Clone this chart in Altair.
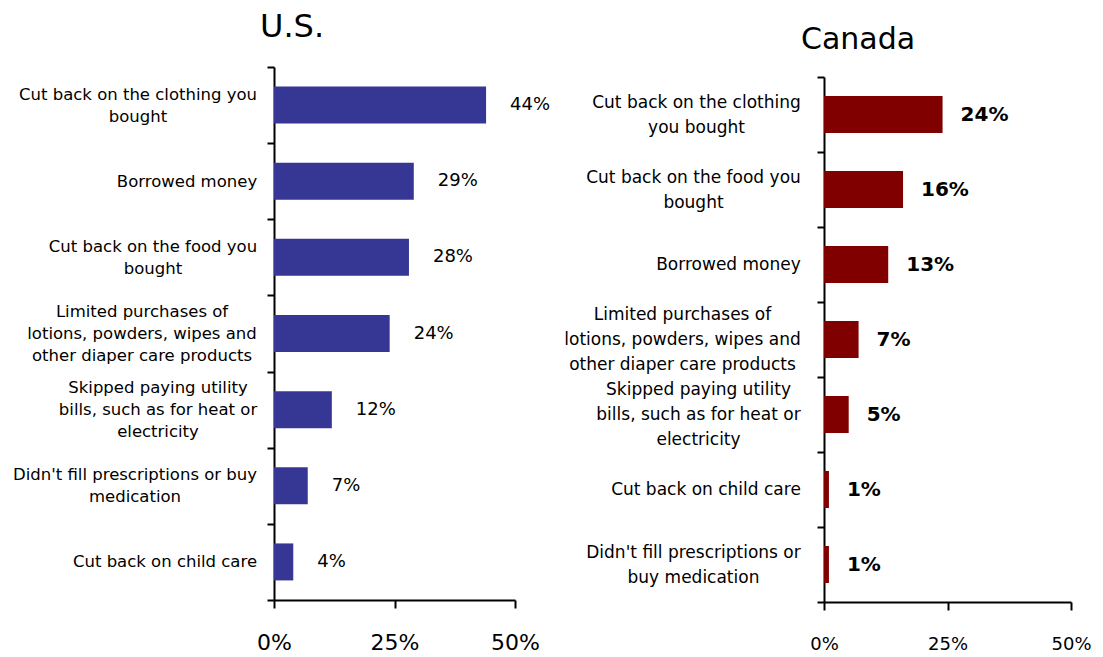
import json
import altair as alt
import pandas as pd

# ---- data ----
us_categories = [
    "Cut back on the clothing you\nbought",
    "Borrowed money",
    "Cut back on the food you\nbought",
    "Limited purchases of\nlotions, powders, wipes and\nother diaper care products",
    "Skipped paying utility\nbills, such as for heat or\nelectricity",
    "Didn't fill prescriptions or buy\nmedication",
    "Cut back on child care",
]
us_values = [44, 29, 28, 24, 12, 7, 4]

ca_categories = [
    "Cut back on the clothing\nyou bought",
    "Cut back on the food you\nbought",
    "Borrowed money",
    "Limited purchases of\nlotions, powders, wipes and\nother diaper care products",
    "Skipped paying utility\nbills, such as for heat or\nelectricity",
    "Cut back on child care",
    "Didn't fill prescriptions or\nbuy medication",
]
ca_values = [24, 16, 13, 7, 5, 1, 1]

x_ticks = [0, 25, 50]
x_domain = [0, 50]

# ---- layout / style (approximate widest line of each label, px) ----
us_label_widths = [237, 139, 207, 229, 197, 243, 183]
ca_label_widths = [208, 214, 144, 236, 204, 189, 214]

FONT = "DejaVu Sans"


def nlines(n):
    return "length(split(datum.value, '\\n')) == %d" % n


def panel(cats, vals, widths, color, title, width, height, y_range, y_fs, y_pad,
          y_lh, x_fs, x_pad, val_fs, val_weight, val_dx, bar_size):
    df = pd.DataFrame({"category": cats, "value": vals})
    base = alt.Chart(df)
    yscale = alt.Scale(paddingInner=0, paddingOuter=0, range=y_range)
    pad_conditions = [
        {"test": "datum.value == %s" % json.dumps(c), "value": y_pad + w / 2}
        for c, w in zip(cats, widths)
    ]
    bars = base.mark_bar(color=color, size=bar_size).encode(
        x=alt.X(
            "value:Q",
            scale=alt.Scale(domain=x_domain),
            axis=alt.Axis(
                values=x_ticks,
                labelExpr="datum.value + '%'",
                title=None,
                grid=False,
                domainColor="black",
                domainWidth=2,
                tickColor="black",
                tickWidth=2,
                tickSize=8,
                labelFont=FONT,
                labelFontSize=x_fs,
                labelColor="black",
                labelPadding=x_pad,
                labelFlush=False,
            ),
        ),
        y=alt.Y(
            "category:N",
            sort=cats,
            scale=yscale,
            axis=alt.Axis(
                title=None,
                labelExpr="split(datum.label, '\\n')",
                labelFont=FONT,
                labelFontSize=y_fs,
                labelColor="black",
                labelLimit=400,
                labelAlign="center",
                labelPadding={"condition": pad_conditions, "value": y_pad},
                labelLineHeight=y_lh,
                labelOffset={
                    "condition": [
                        {"test": nlines(3), "value": -y_lh},
                        {"test": nlines(2), "value": -y_lh / 2},
                    ],
                    "value": 0,
                },
                tickBand="extent",
                tickColor="black",
                tickWidth=2,
                tickSize=7,
                domainColor="black",
                domainWidth=2,
            ),
        ),
    )
    text = base.transform_calculate(lab="datum.value + '%'").mark_text(
        align="left", baseline="middle", dx=val_dx, font=FONT,
        fontSize=val_fs, fontWeight=val_weight, color="black"
    ).encode(
        x=alt.X("value:Q", scale=alt.Scale(domain=x_domain)),
        y=alt.Y("category:N", sort=cats, scale=yscale),
        text=alt.Text("lab:N"),
    )
    return alt.layer(bars, text).properties(width=width, height=height, title=title)


us_title = alt.TitleParams(
    text="U.S.", font=FONT, fontSize=32, fontWeight="normal", color="black",
    anchor="start", frame="group", dx=-14, offset=15,
)
ca_title = alt.TitleParams(
    text="Canada", font=FONT, fontSize=30, fontWeight="normal", color="black",
    anchor="start", frame="group", dx=-23, offset=3,
)

us = panel(us_categories, us_values, us_label_widths, "#363795", us_title, 241, 533,
           [0, 533], 16.5, 11, 22, 22, 24, 18, "normal", 24, 37)
ca = panel(ca_categories, ca_values, ca_label_widths, "#800000", ca_title, 247, 535,
           [10, 535], 17, 17, 25, 18, 25, 20, "bold", 18, 37)

chart = alt.hconcat(us, ca, spacing=12).properties(
    padding={"left": 4, "top": 3, "right": 0, "bottom": 0}
).configure_view(stroke=None)

chart.save("out.html", embed_options={"renderer": "svg", "actions": False})
